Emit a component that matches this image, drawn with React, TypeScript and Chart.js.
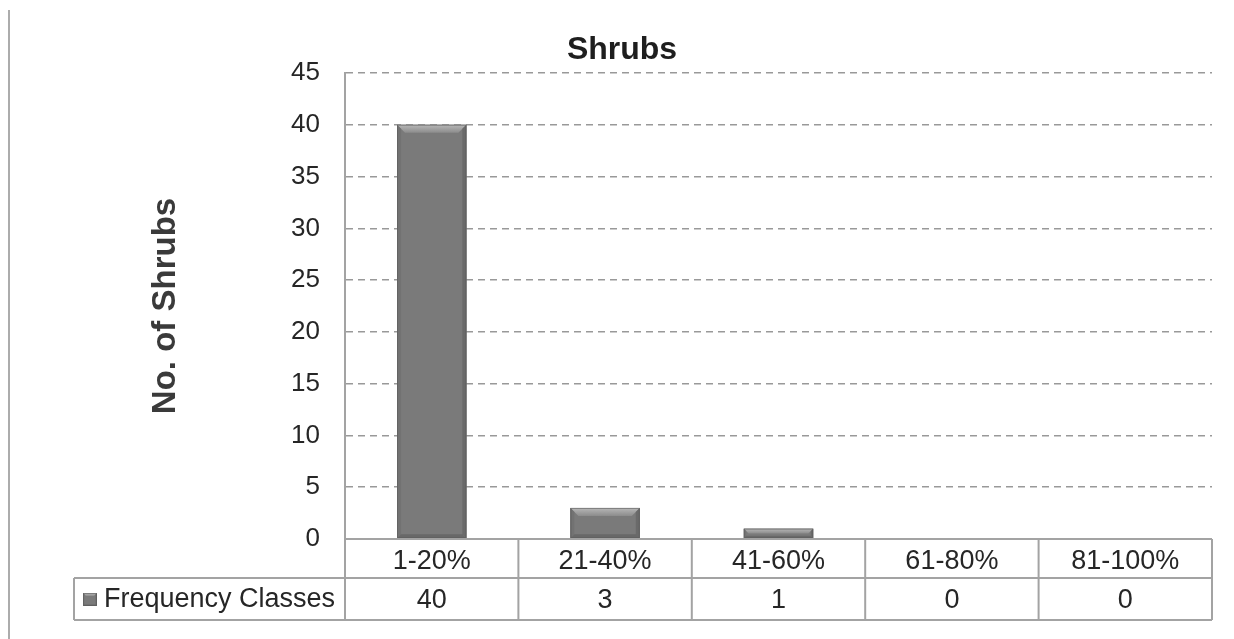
import React, { useEffect, useRef } from "react";
import { Chart, registerables } from "chart.js";

Chart.register(...registerables);

// Frequency classes and number of shrubs in each class
const categories = ["1-20%", "21-40%", "41-60%", "61-80%", "81-100%"];
const shrubCounts = [40, 3, 1, 0, 0];
const seriesName = "Frequency Classes";
const chartTitle = "Shrubs";
const yAxisTitle = "No. of Shrubs";
const yMin = 0;
const yMax = 45;
const yStep = 5;

const FONT = "'Liberation Sans', Arial, Helvetica, sans-serif";
const TEXT = "#262626";
const LINE = "#a3a3a3";
const BAR = "#7a7a7a";

// Draws a bevelled grey block (bar face plus lit top edge and shaded sides)
function drawBevelBox(ctx: CanvasRenderingContext2D, left: number, top: number, right: number, bottom: number, bevel: number) {
  const b = Math.max(0, Math.min(bevel, (bottom - top) / 2, (right - left) / 2));
  ctx.save();
  ctx.fillStyle = BAR;
  ctx.fillRect(left, top, right - left, bottom - top);
  if (b > 0) {
    // top bevel
    const g = ctx.createLinearGradient(0, top, 0, top + b);
    g.addColorStop(0, "#b8b8b8");
    g.addColorStop(1, "#8c8c8c");
    ctx.fillStyle = g;
    ctx.beginPath();
    ctx.moveTo(left, top);
    ctx.lineTo(right, top);
    ctx.lineTo(right - b, top + b);
    ctx.lineTo(left + b, top + b);
    ctx.closePath();
    ctx.fill();
    // left side
    ctx.fillStyle = "#727272";
    ctx.beginPath();
    ctx.moveTo(left, top);
    ctx.lineTo(left + b * 0.5, top + b * 0.5);
    ctx.lineTo(left + b * 0.5, bottom - b * 0.5);
    ctx.lineTo(left, bottom);
    ctx.closePath();
    ctx.fill();
    // right side
    ctx.fillStyle = "#6a6a6a";
    ctx.beginPath();
    ctx.moveTo(right, top);
    ctx.lineTo(right - b * 0.5, top + b * 0.5);
    ctx.lineTo(right - b * 0.5, bottom - b * 0.5);
    ctx.lineTo(right, bottom);
    ctx.closePath();
    ctx.fill();
    // bottom side
    ctx.fillStyle = "#686868";
    ctx.beginPath();
    ctx.moveTo(left, bottom);
    ctx.lineTo(right, bottom);
    ctx.lineTo(right - b * 0.5, bottom - b * 0.5);
    ctx.lineTo(left + b * 0.5, bottom - b * 0.5);
    ctx.closePath();
    ctx.fill();
  }
  ctx.strokeStyle = "rgba(90,90,90,0.6)";
  ctx.lineWidth = 1;
  ctx.strokeRect(left + 0.5, top + 0.5, right - left - 1, bottom - top - 1);
  ctx.restore();
}

// Bevel styling on top of the plain bars
const bevelPlugin = {
  id: "bevelBars",
  afterDatasetsDraw(chart: any) {
    const { ctx } = chart;
    const meta = chart.getDatasetMeta(0);
    meta.data.forEach((bar: any) => {
      const { x, y, base, width } = bar.getProps(["x", "y", "base", "width"], true);
      if (Math.abs(base - y) < 0.5) return;
      drawBevelBox(ctx, x - width / 2, Math.min(y, base), x + width / 2, Math.max(y, base), 8);
    });
  },
};

// Data table under the plot plus the frame line on the left
const tablePlugin = {
  id: "dataTable",
  afterDraw(chart: any) {
    const { ctx, chartArea, scales } = chart;
    const xs = scales.x;
    const n = categories.length;
    const left = chartArea.left;
    const right = chartArea.right;
    const top = chartArea.bottom;
    const row1 = top + 39;
    const row2 = row1 + 42;
    const legendLeft = 74;

    const centers = categories.map((_, i) => xs.getPixelForValue(i));
    const bounds = [left];
    for (let i = 1; i < n; i++) bounds.push((centers[i - 1] + centers[i]) / 2);
    bounds.push(right);

    ctx.save();
    // outer frame line on the left
    ctx.strokeStyle = "#acacac";
    ctx.lineWidth = 2;
    ctx.beginPath();
    ctx.moveTo(9, 10);
    ctx.lineTo(9, chart.height);
    ctx.stroke();

    ctx.strokeStyle = LINE;
    ctx.lineWidth = 2;
    ctx.beginPath();
    ctx.moveTo(left, top);
    ctx.lineTo(right, top);
    ctx.moveTo(legendLeft, row1);
    ctx.lineTo(right, row1);
    ctx.moveTo(legendLeft, row2);
    ctx.lineTo(right, row2);
    ctx.moveTo(left, chartArea.top);
    ctx.lineTo(left, row2);
    bounds.slice(1).forEach((bx) => {
      ctx.moveTo(bx, top);
      ctx.lineTo(bx, row2);
    });
    ctx.moveTo(legendLeft, row1);
    ctx.lineTo(legendLeft, row2);
    ctx.stroke();

    ctx.fillStyle = TEXT;
    ctx.font = `27px ${FONT}`;
    ctx.textAlign = "center";
    ctx.textBaseline = "alphabetic";
    categories.forEach((c, i) => ctx.fillText(c, centers[i], top + 30));
    shrubCounts.forEach((v, i) => ctx.fillText(String(v), centers[i], row1 + 30));

    // legend key and series name
    drawBevelBox(ctx, 83, row1 + 15, 97, row1 + 28, 3);
    ctx.fillStyle = TEXT;
    ctx.textAlign = "left";
    ctx.fillText(seriesName, 104, row1 + 29);
    ctx.restore();
  },
};

export default function App() {
  const canvasRef = useRef<HTMLCanvasElement | null>(null);

  useEffect(() => {
    if (!canvasRef.current) return;
    const chart = new Chart(canvasRef.current, {
      type: "bar",
      data: {
        labels: categories,
        datasets: [
          {
            label: seriesName,
            data: shrubCounts,
            backgroundColor: BAR,
            borderWidth: 0,
            categoryPercentage: 1,
            barPercentage: 0.4,
          },
        ],
      },
      options: {
        responsive: false,
        animation: false,
        devicePixelRatio: 1,
        layout: { padding: { left: 32, top: 0, right: 22, bottom: 100 } },
        plugins: {
          legend: { display: false },
          tooltip: { enabled: false },
          title: {
            display: true,
            text: chartTitle,
            color: "#1e1e1e",
            font: { family: FONT, size: 32, weight: "bold" },
            padding: { top: 31, bottom: 3.6 },
          },
        },
        scales: {
          x: {
            display: false,
            offset: true,
          },
          y: {
            min: yMin,
            max: yMax,
            ticks: {
              stepSize: yStep,
              padding: 25,
              color: TEXT,
              font: { family: FONT, size: 26 },
            },
            grid: { color: "#999999", lineWidth: 1.6, drawTicks: false },
            border: { display: true, color: LINE, width: 2, dash: [7, 5] },
            title: {
              display: true,
              text: yAxisTitle,
              color: "#3a3a3a",
              font: { family: FONT, size: 33, weight: "bold" },
              padding: { top: 114, bottom: 0 },
            },
            afterFit(scale: any) {
              scale.width = 313;
            },
          },
        },
      },
      plugins: [bevelPlugin, tablePlugin],
    });
    return () => chart.destroy();
  }, []);

  return (
    <div style={{ position: "absolute", left: 0, top: 0, width: 1234, height: 639, background: "#fff" }}>
      <canvas ref={canvasRef} width={1234} height={639} />
    </div>
  );
}
